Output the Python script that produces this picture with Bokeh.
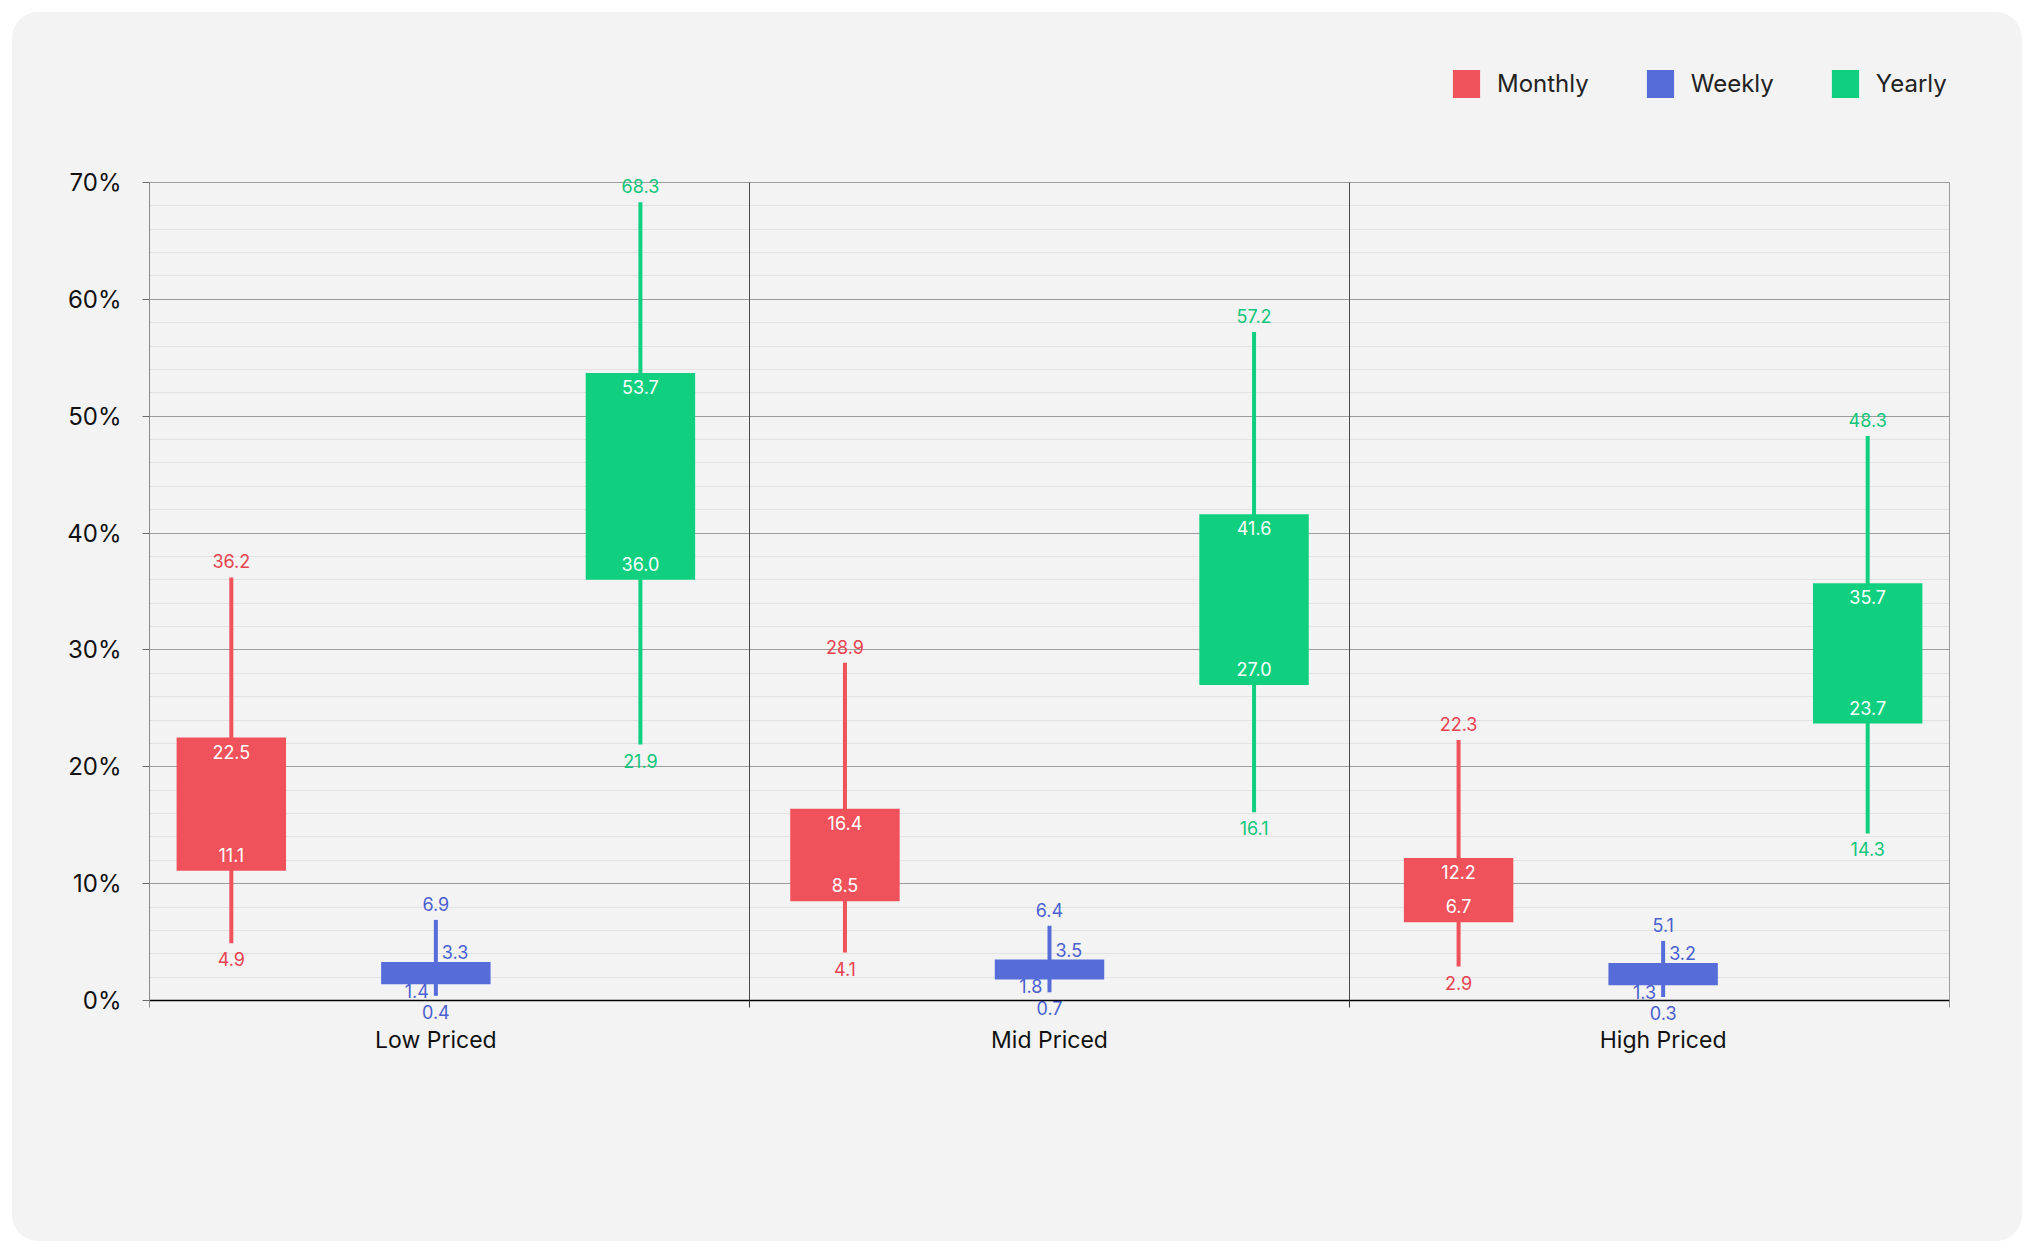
from bokeh.plotting import figure
from bokeh.models import ColumnDataSource, FixedTicker, Legend, LegendItem, Range1d, InlineStyleSheet
from bokeh.embed import file_html
from bokeh.resources import INLINE
from bokeh.core.properties import value

# ---------------- data ----------------
categories = ["Low Priced", "Mid Priced", "High Priced"]
series_names = ["Monthly", "Weekly", "Yearly"]

monthly_low = [4.9, 4.1, 2.9]
monthly_q1 = [11.1, 8.5, 6.7]
monthly_q3 = [22.5, 16.4, 12.2]
monthly_high = [36.2, 28.9, 22.3]

weekly_low = [0.4, 0.7, 0.3]
weekly_q1 = [1.4, 1.8, 1.3]
weekly_q3 = [3.3, 3.5, 3.2]
weekly_high = [6.9, 6.4, 5.1]

yearly_low = [21.9, 16.1, 14.3]
yearly_q1 = [36.0, 27.0, 23.7]
yearly_q3 = [53.7, 41.6, 35.7]
yearly_high = [68.3, 57.2, 48.3]

y_ticks = [0, 10, 20, 30, 40, 50, 60, 70]
y_tick_labels = ["0%", "10%", "20%", "30%", "40%", "50%", "60%", "70%"]

# ---------------- styles ----------------
FONT = "Inter"
BG = "#f3f3f3"
fill_colors = {"Monthly": "#f0525c", "Weekly": "#566cd9", "Yearly": "#10d07f"}
text_colors = {"Monthly": "#e6424f", "Weekly": "#4a5fd0", "Yearly": "#10c67a"}

n_cat = len(categories)
n_ser = len(series_names)
n_pos = n_cat * n_ser
PAD = 0.4
X0, X1 = -PAD, n_pos - 1 + PAD
Y0, Y1 = 0, 70

CARD_W, CARD_H = 2010, 1229
FW = 1800
PLOT_H = 818            # pixel height of the 0..70 band
BORDER_L, BORDER_R = 137, 73
BORDER_T, BORDER_B = 30, 30
PLOT_TOP = 170          # card y of the 70% line
EXTRA_TOP = PLOT_TOP - BORDER_T
EXTRA_BOT = CARD_H - BORDER_B - (PLOT_TOP + PLOT_H)
FH = PLOT_H + EXTRA_TOP + EXTRA_BOT
ppu = PLOT_H / (Y1 - Y0)

BOX_W = 0.535

p = figure(
    width=CARD_W, height=CARD_H,
    frame_width=FW, frame_height=FH,
    x_range=Range1d(X0, X1),
    y_range=Range1d(Y0 - EXTRA_BOT / ppu, Y1 + EXTRA_TOP / ppu),
    output_backend="svg", toolbar_location=None,
    min_border_left=BORDER_L, min_border_right=BORDER_R,
    min_border_top=BORDER_T, min_border_bottom=BORDER_B,
    background_fill_color=None, border_fill_color=None,
    outline_line_color=None,
)
p.title.visible = False
p.styles = {"border-radius": "26px", "overflow": "hidden", "background-color": BG}
p.stylesheets = [InlineStyleSheet(css=":host { margin: 12px 0 0 12px !important; border-radius: 26px; overflow: hidden; background-color: %s; }" % BG)]

# separators at thirds of the plot width (from 0% to 70%)
span = X1 - X0
seps = [X0 + span * k / n_cat for k in range(n_cat + 1)]
p.segment(x0=seps[1:], y0=[Y0] * n_cat, x1=seps[1:], y1=[Y1] * n_cat,
          line_color="#4a4a4a", line_width=1)

# grids
p.xgrid.visible = False
minor_y = [v for v in range(Y0, Y1 + 1, 2) if v % 10]
p.yaxis.ticker = FixedTicker(ticks=y_ticks, minor_ticks=minor_y)
p.ygrid.grid_line_color = "#9c9c9c"
p.ygrid.grid_line_width = 1
p.ygrid.minor_grid_line_color = "#e2e2e2"
p.ygrid.minor_grid_line_width = 1
p.ygrid.level = "image"

# y axis
p.yaxis.bounds = (Y0, Y1)
p.yaxis.major_label_overrides = {t: l for t, l in zip(y_ticks, y_tick_labels)}
p.yaxis.axis_line_color = "#8a8a8a"
p.yaxis.major_tick_line_color = "#6a6a6a"
p.yaxis.major_tick_out = 7
p.yaxis.major_tick_in = 0
p.yaxis.minor_tick_line_color = None
p.yaxis.major_label_text_font = FONT
p.yaxis.major_label_text_font_size = "24px"
p.yaxis.major_label_text_color = "#111111"
p.yaxis.major_label_standoff = 21

# x axis at y = 0
group_centers = [i * n_ser + (n_ser - 1) / 2 for i in range(n_cat)]
p.xaxis.fixed_location = 0
p.xaxis.bounds = (X0, X1)
p.xaxis.ticker = FixedTicker(ticks=group_centers, minor_ticks=seps)
p.xaxis.major_label_overrides = {c: name for c, name in zip(group_centers, categories)}
p.xaxis.axis_line_color = "#000000"
p.xaxis.axis_line_width = 1.5
p.xaxis.major_tick_line_color = None
p.xaxis.major_tick_out = 0
p.xaxis.major_tick_in = 0
p.xaxis.minor_tick_line_color = "#333333"
p.xaxis.minor_tick_out = 7
p.xaxis.minor_tick_in = 0
p.xaxis.major_label_text_font = FONT
p.xaxis.major_label_text_font_size = "23px"
p.xaxis.major_label_text_color = "#111111"
p.xaxis.major_label_standoff = 18

series_data = {
    "Monthly": (monthly_low, monthly_q1, monthly_q3, monthly_high),
    "Weekly": (weekly_low, weekly_q1, weekly_q3, weekly_high),
    "Yearly": (yearly_low, yearly_q1, yearly_q3, yearly_high),
}

legend_items = []
LABEL_SIZE = "18px"
for j, name in enumerate(series_names):
    low, q1, q3, high = series_data[name]
    xs = [i * n_ser + j for i in range(n_cat)]
    src = ColumnDataSource(dict(
        x=xs, low=low, q1=q1, q3=q3, high=high,
        low_t=[f"{v:.1f}" for v in low], high_t=[f"{v:.1f}" for v in high],
    ))
    fc = fill_colors[name]
    tc = text_colors[name]
    p.segment(x0="x", y0="low", x1="x", y1="high", source=src, line_color=fc, line_width=4)
    r = p.vbar(x="x", width=BOX_W, bottom="q1", top="q3", source=src,
               fill_color=fc, line_color=None)
    legend_items.append(LegendItem(label=name, renderers=[r]))

    common = dict(text_font=value(FONT), text_font_size=LABEL_SIZE)
    p.text(x="x", y="high", text="high_t", source=src, text_align="center",
           text_baseline="alphabetic", y_offset=-16, text_color=tc, **common)
    p.text(x="x", y="low", text="low_t", source=src, text_align="center",
           text_baseline="top", y_offset=9, text_color=tc, **common)

    # box labels: inside the box when it is tall enough, beside the whisker otherwise
    big = [k for k in range(n_cat) if (q3[k] - q1[k]) * ppu >= 40]
    small = [k for k in range(n_cat) if (q3[k] - q1[k]) * ppu < 40]
    if big:
        bsrc = ColumnDataSource(dict(
            x=[xs[k] for k in big], q1=[q1[k] for k in big], q3=[q3[k] for k in big],
            q1_t=[f"{q1[k]:.1f}" for k in big], q3_t=[f"{q3[k]:.1f}" for k in big],
        ))
        p.text(x="x", y="q3", text="q3_t", source=bsrc, text_align="center",
               text_baseline="top", y_offset=7, text_color="#ffffff", **common)
        p.text(x="x", y="q1", text="q1_t", source=bsrc, text_align="center",
               text_baseline="alphabetic", y_offset=-16, text_color="#ffffff", **common)
    if small:
        ssrc = ColumnDataSource(dict(
            x=[xs[k] for k in small], q1=[q1[k] for k in small], q3=[q3[k] for k in small],
            q1_t=[f"{q1[k]:.1f}" for k in small], q3_t=[f"{q3[k]:.1f}" for k in small],
        ))
        p.text(x="x", y="q3", text="q3_t", source=ssrc, text_align="left",
               text_baseline="alphabetic", x_offset=6, y_offset=-10, text_color=tc, **common)
        p.text(x="x", y="q1", text="q1_t", source=ssrc, text_align="right",
               text_baseline="top", x_offset=-7, y_offset=0, text_color=tc, **common)

# legend: bottom-left corner in pixels from the frame's bottom-left
GLYPH_W, GLYPH_H = 34, 35     # legend swatch is drawn at 80% of this box
LEG_LEFT = 1452 - 12 - BORDER_L - 3
LEG_BOTTOM = (CARD_H - BORDER_B) - (97 - 12) - 4
legend = Legend(
    items=legend_items, orientation="horizontal",
    location=(LEG_LEFT, LEG_BOTTOM),
    glyph_width=GLYPH_W, glyph_height=GLYPH_H, label_standoff=14, spacing=54,
    padding=0, margin=0, border_line_color=None, background_fill_alpha=0,
    label_text_font=FONT, label_text_font_size="24px", label_text_color="#222222",
    label_height=GLYPH_H,
)
p.add_layout(legend)

open("out.html", "w").write(file_html(p, INLINE))
